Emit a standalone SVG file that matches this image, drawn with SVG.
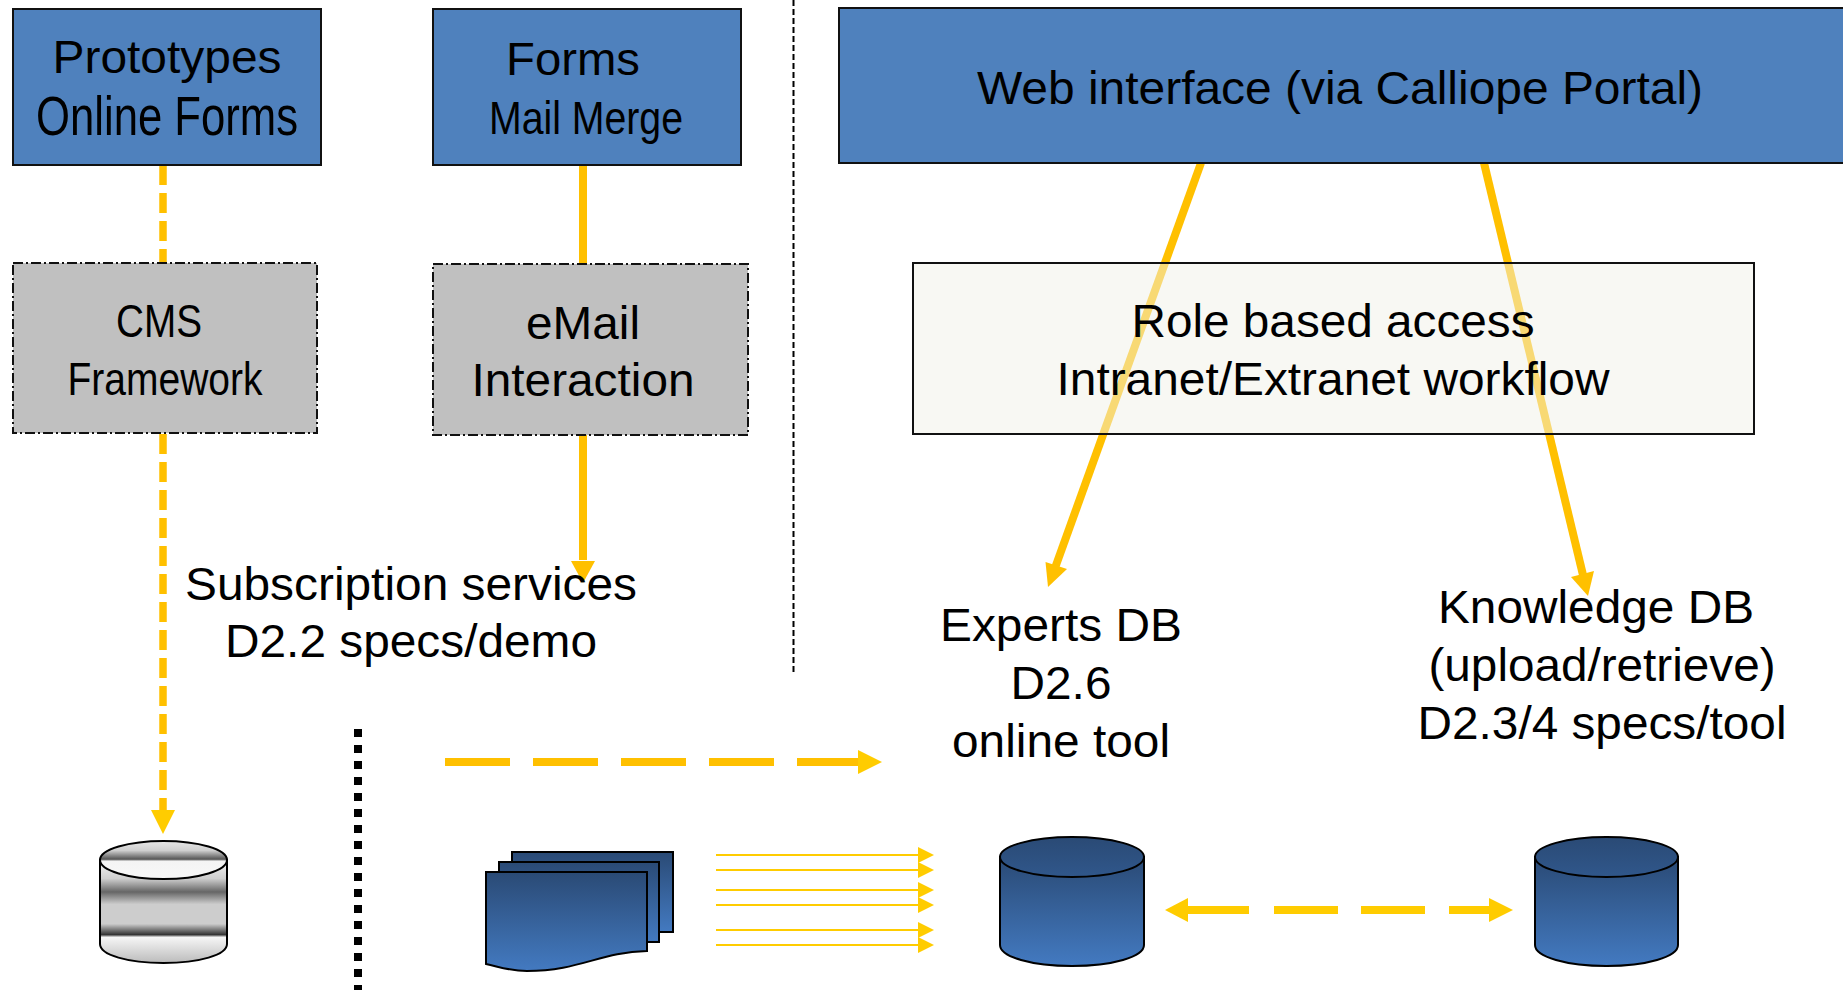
<svg xmlns="http://www.w3.org/2000/svg" width="1843" height="990" viewBox="0 0 1843 990">
<style>
text{font-family:"Liberation Sans",Arial,sans-serif;fill:#000;text-anchor:middle}
.blue{fill:#4f81bd;stroke:#111;stroke-width:2}
.gray{fill:#c0c0c0;stroke:#111;stroke-width:2;stroke-dasharray:10 3 2 3}
.y{stroke:#ffc000;fill:none}
.h{fill:#ffc000}
.c{fill:#ffcc00}
.t{stroke:#ffcc00;stroke-width:2;fill:none}
.cyl{stroke:#000;stroke-width:2}
</style>
<defs>
<linearGradient id="bg" x1="0" y1="0" x2="0" y2="1"><stop offset="0" stop-color="#2a4a75"/><stop offset="1" stop-color="#437ac1"/></linearGradient>
<linearGradient id="bt" x1="0" y1="0" x2="0" y2="1"><stop offset="0" stop-color="#2a4a75"/><stop offset="1" stop-color="#30578b"/></linearGradient>
<linearGradient id="mtop" x1="0" y1="0" x2="0" y2="1"><stop offset="0" stop-color="#e8e8e8"/><stop offset=".25" stop-color="#cfcfcf"/><stop offset=".48" stop-color="#555"/><stop offset=".53" stop-color="#f4f4f4"/><stop offset="1" stop-color="#f8f8f8"/></linearGradient>
<linearGradient id="mbody" x1="0" y1="0" x2="0" y2="1"><stop offset="0" stop-color="#f4f4f4"/><stop offset=".18" stop-color="#cfcfcf"/><stop offset=".31" stop-color="#666"/><stop offset=".43" stop-color="#cdcdcd"/><stop offset=".62" stop-color="#cdcdcd"/><stop offset=".725" stop-color="#333"/><stop offset=".75" stop-color="#f6f6f6"/><stop offset="1" stop-color="#bbb"/></linearGradient>
</defs>
<rect width="1843" height="990" fill="#fff"/>
<g id="connectors">
<line x1="793.500" y1="0" x2="793.500" y2="672" stroke="#000" stroke-width="2" stroke-dasharray="6 3"/>
<line x1="358" y1="729" x2="358" y2="990" stroke="#000" stroke-width="8" stroke-dasharray="8 8"/>
<line class="y" x1="163" y1="165" x2="163" y2="263" stroke-width="7.500" stroke-dasharray="20 8"/>
<line class="y" x1="163" y1="434" x2="163" y2="812" stroke-width="7.500" stroke-dasharray="20 8"/>
<polygon class="c" points="151,810 175,810 163,834"/>
<line class="y" x1="583" y1="165" x2="583" y2="264" stroke-width="8"/>
<line class="y" x1="583" y1="435" x2="583" y2="560" stroke-width="8"/>
<polygon class="h" points="571,561 595,561 583,583"/>
<line class="y" x1="1201" y1="163" x2="1055" y2="568" stroke-width="8"/>
<polygon class="h" points="1045.500,562 1067,569 1048,587"/>
<line class="y" x1="1484" y1="163" x2="1583" y2="575" stroke-width="8"/>
<polygon class="h" points="1571,577 1594,571 1588,596"/>
<line class="y" x1="445" y1="762" x2="862" y2="762" stroke-width="8" stroke-dasharray="65 23"/>
<polygon class="c" points="858,750 882,762 858,774"/>
<g class="t">
<line x1="716" y1="855" x2="920" y2="855"/><line x1="716" y1="870" x2="920" y2="870"/><line x1="716" y1="890" x2="920" y2="890"/><line x1="716" y1="905" x2="920" y2="905"/><line x1="716" y1="930" x2="920" y2="930"/><line x1="716" y1="945" x2="920" y2="945"/>
</g>
<g class="c">
<polygon points="918,847 934,855 918,863"/><polygon points="918,862 934,870 918,878"/><polygon points="918,882 934,890 918,898"/><polygon points="918,897 934,905 918,913"/><polygon points="918,922 934,930 918,938"/><polygon points="918,937 934,945 918,953"/>
</g>
<g stroke="#ffcc00" stroke-width="8">
<line x1="1188" y1="910" x2="1249" y2="910"/><line x1="1274" y1="910" x2="1338" y2="910"/><line x1="1361" y1="910" x2="1425" y2="910"/><line x1="1449" y1="910" x2="1489" y2="910"/>
</g>
<polygon class="c" points="1165,910 1188,898 1188,922"/>
<polygon class="c" points="1513,910 1489,898 1489,922"/>
</g>
<g id="prototypes"><rect class="blue" x="13" y="9" width="308" height="156"/>
<text x="167" y="73" font-size="47" textLength="229" lengthAdjust="spacingAndGlyphs">Prototypes</text>
<text x="167" y="135" font-size="55" textLength="262" lengthAdjust="spacingAndGlyphs">Online Forms</text></g>
<g id="forms"><rect class="blue" x="433" y="9" width="308" height="156"/>
<text x="573" y="75" font-size="47" textLength="134" lengthAdjust="spacingAndGlyphs">Forms</text>
<text x="586" y="134" font-size="47" textLength="194" lengthAdjust="spacingAndGlyphs">Mail Merge</text></g>
<g id="web"><rect class="blue" x="839" y="8" width="1010" height="155"/>
<text x="1340" y="104" font-size="47" textLength="726" lengthAdjust="spacingAndGlyphs">Web interface (via Calliope Portal)</text></g>
<g id="cms"><rect class="gray" x="13" y="263" width="304" height="170"/>
<text x="159" y="337" font-size="46" textLength="86" lengthAdjust="spacingAndGlyphs">CMS</text>
<text x="165" y="395" font-size="46" textLength="195" lengthAdjust="spacingAndGlyphs">Framework</text></g>
<g id="email"><rect class="gray" x="433" y="264" width="315" height="171"/>
<text x="583" y="339" font-size="47" textLength="114" lengthAdjust="spacingAndGlyphs">eMail</text>
<text x="583" y="396" font-size="47" textLength="223" lengthAdjust="spacingAndGlyphs">Interaction</text></g>
<g id="role"><rect x="913" y="263" width="841" height="171" fill="#f2f2e8" fill-opacity=".5"/><rect x="913" y="263" width="841" height="171" fill="none" stroke="#111" stroke-width="2"/>
<text x="1333" y="337" font-size="46" textLength="403" lengthAdjust="spacingAndGlyphs">Role based access</text>
<text x="1333" y="395" font-size="46" textLength="553" lengthAdjust="spacingAndGlyphs">Intranet/Extranet workflow</text></g>
<g id="subscription"><text x="411" y="600" font-size="46" textLength="452" lengthAdjust="spacingAndGlyphs">Subscription services</text>
<text x="411" y="657" font-size="46" textLength="372" lengthAdjust="spacingAndGlyphs">D2.2 specs/demo</text></g>
<g id="experts"><text x="1061" y="641" font-size="46" textLength="242" lengthAdjust="spacingAndGlyphs">Experts DB</text>
<text x="1061" y="699" font-size="46" textLength="101" lengthAdjust="spacingAndGlyphs">D2.6</text>
<text x="1061" y="757" font-size="46" textLength="218" lengthAdjust="spacingAndGlyphs">online tool</text></g>
<g id="knowledge"><text x="1596" y="623" font-size="46" textLength="316" lengthAdjust="spacingAndGlyphs">Knowledge DB</text>
<text x="1602" y="681" font-size="46" textLength="347" lengthAdjust="spacingAndGlyphs">(upload/retrieve)</text>
<text x="1602" y="739" font-size="46" textLength="369" lengthAdjust="spacingAndGlyphs">D2.3/4 specs/tool</text></g>
<g id="archive-db">
<path class="cyl" fill="url(#mbody)" d="M100 860V944C100 955 128 963 163.500 963S227 955 227 944V860Z"/>
<ellipse class="cyl" cx="163.500" cy="860" rx="63.500" ry="19" fill="url(#mtop)"/>
</g>
<g id="documents" class="cyl" fill="url(#bg)">
<rect x="512" y="852" width="161" height="80"/>
<rect x="499" y="862" width="160" height="80"/>
<path d="M486 872H647V951C600 952 580 971 527 971C510 971 500 967 486 964Z"/>
</g>
<g id="experts-db">
<path class="cyl" fill="url(#bg)" d="M1000 857V945C1000 957 1032 966 1072 966S1144 957 1144 945V857Z"/>
<ellipse class="cyl" cx="1072" cy="857" rx="72" ry="20" fill="url(#bt)" stroke-width="2.500"/>
</g>
<g id="knowledge-db">
<path class="cyl" fill="url(#bg)" d="M1535 857V945C1535 957 1567 966 1606.500 966S1678 957 1678 945V857Z"/>
<ellipse class="cyl" cx="1606.500" cy="857" rx="71.500" ry="20" fill="url(#bt)" stroke-width="2.500"/>
</g>
</svg>
